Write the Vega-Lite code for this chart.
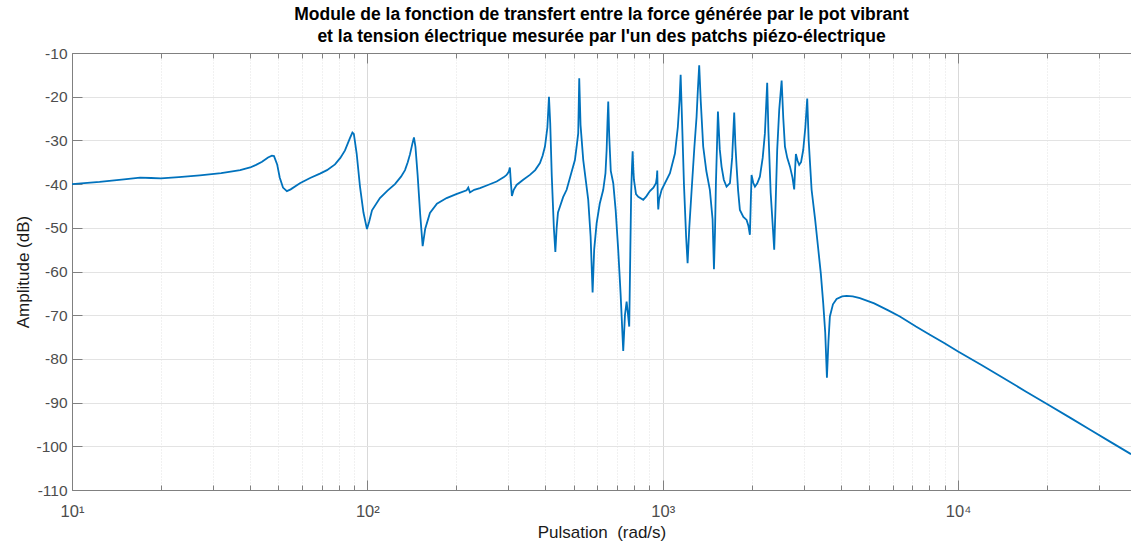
{
 "$schema": "https://vega.github.io/schema/vega-lite/v6.json",
 "width": 1059,
 "height": 437,
 "autosize": {"type": "none"},
 "padding": {"left": 72, "top": 53, "right": 0, "bottom": 55},
 "background": "white",
 "title": {
  "text": ["Module de la fonction de transfert entre la force générée par le pot vibrant", "et la tension électrique mesurée par l'un des patchs piézo-électrique"],
  "font": "Liberation Sans", "fontSize": 17.5, "fontWeight": "bold", "color": "#000000",
  "anchor": "middle", "offset": 1, "lineHeight": 22
 },
 "config": {
  "view": {"stroke": "#808080", "strokeWidth": 1},
  "axis": {"labelFont": "Liberation Sans", "titleFont": "Liberation Sans", "domainColor": "#808080", "tickColor": "#808080", "labelColor": "#4d4d4d", "titleColor": "#1a1a1a", "titleFontWeight": "normal"}
 },
 "data": {"values": [
  {"w":10,"db":-40.0},{"w":12.4,"db":-39.5},{"w":15,"db":-38.9},{"w":17,"db":-38.5},{"w":18.5,"db":-38.6},{"w":20,"db":-38.7},{"w":23,"db":-38.4},{"w":27.1,"db":-38.0},{"w":32,"db":-37.5},{"w":37.1,"db":-36.8},{"w":40.1,"db":-36.2},{"w":42,"db":-35.6},{"w":44,"db":-34.9},{"w":46.1,"db":-33.9},{"w":47.5,"db":-33.5},{"w":48.3,"db":-33.6},{"w":49.5,"db":-35.5},{"w":50.5,"db":-38.5},{"w":51.8,"db":-40.8},{"w":53.4,"db":-41.6},{"w":55,"db":-41.2},{"w":59.1,"db":-39.8},{"w":64,"db":-38.6},{"w":69.1,"db":-37.6},{"w":73,"db":-36.8},{"w":77.7,"db":-35.5},{"w":81,"db":-34.0},{"w":84,"db":-32.3},{"w":87.3,"db":-29.5},{"w":89,"db":-28.2},{"w":90,"db":-28.5},{"w":92,"db":-33},{"w":94.4,"db":-40.5},{"w":97,"db":-46.5},{"w":99.7,"db":-50.3},{"w":101.5,"db":-48.5},{"w":103.7,"db":-46},{"w":110.3,"db":-43.2},{"w":117,"db":-41.5},{"w":124,"db":-40.0},{"w":130,"db":-38.3},{"w":134.1,"db":-36.8},{"w":137,"db":-35},{"w":139.4,"db":-33.2},{"w":142,"db":-30.8},{"w":143.8,"db":-29.3},{"w":145.5,"db":-31.5},{"w":148,"db":-38},{"w":151,"db":-47},{"w":153.9,"db":-54.2},{"w":157,"db":-50.2},{"w":162.9,"db":-46.6},{"w":172,"db":-44.5},{"w":185.5,"db":-43.2},{"w":200,"db":-42.3},{"w":216.8,"db":-41.4},{"w":219.6,"db":-40.8},{"w":222.5,"db":-41.9},{"w":230,"db":-41.3},{"w":240.6,"db":-40.9},{"w":256,"db":-40.2},{"w":274,"db":-39.4},{"w":290,"db":-38.4},{"w":296.1,"db":-37.9},{"w":301,"db":-37.2},{"w":303.8,"db":-36.2},{"w":306,"db":-39.5},{"w":308.6,"db":-42.7},{"w":313,"db":-41.3},{"w":320.1,"db":-40.2},{"w":337,"db":-39},{"w":355.1,"db":-37.9},{"w":370,"db":-36.8},{"w":384,"db":-35.2},{"w":392,"db":-33.5},{"w":399.3,"db":-31.4},{"w":407,"db":-27},{"w":412,"db":-20.0},{"w":416,"db":-26},{"w":421,"db":-38},{"w":428,"db":-50},{"w":433,"db":-55.5},{"w":437.4,"db":-50},{"w":442,"db":-46.5},{"w":448.7,"db":-45.2},{"w":460,"db":-43},{"w":472.8,"db":-41.3},{"w":490,"db":-37.5},{"w":504.3,"db":-34.5},{"w":512,"db":-31},{"w":517.5,"db":-28.4},{"w":521.6,"db":-15.8},{"w":527,"db":-26.5},{"w":538.2,"db":-34.5},{"w":559.5,"db":-43.6},{"w":570,"db":-52},{"w":578.9,"db":-64.8},{"w":586,"db":-55},{"w":597.3,"db":-49},{"w":612,"db":-44.5},{"w":628.9,"db":-41.3},{"w":640,"db":-37.5},{"w":645.8,"db":-32.2},{"w":650,"db":-26},{"w":654,"db":-21.1},{"w":659,"db":-29},{"w":667,"db":-37},{"w":680,"db":-39.8},{"w":693,"db":-46},{"w":706.9,"db":-55.1},{"w":720,"db":-65},{"w":735,"db":-78.2},{"w":745,"db":-70},{"w":754.7,"db":-66.9},{"w":762,"db":-69.5},{"w":770.2,"db":-72.6},{"w":775,"db":-60},{"w":782,"db":-42},{"w":787,"db":-36},{"w":791,"db":-32.5},{"w":795,"db":-36.5},{"w":799,"db":-39},{"w":812,"db":-42.3},{"w":826.4,"db":-42.9},{"w":859.1,"db":-43.6},{"w":880,"db":-42.8},{"w":904.9,"db":-41.6},{"w":930,"db":-40.8},{"w":948.6,"db":-39.8},{"w":955,"db":-38.5},{"w":958.3,"db":-36.9},{"w":960.5,"db":-40},{"w":963,"db":-44},{"w":965.9,"db":-45.8},{"w":972,"db":-43.5},{"w":991.5,"db":-41.3},{"w":1058,"db":-37.5},{"w":1100,"db":-33},{"w":1125,"db":-27},{"w":1140,"db":-21},{"w":1150,"db":-15.0},{"w":1162,"db":-25},{"w":1180,"db":-40},{"w":1200,"db":-52},{"w":1214,"db":-58.1},{"w":1230,"db":-50},{"w":1253,"db":-41.3},{"w":1280,"db":-31.5},{"w":1302,"db":-24.6},{"w":1315,"db":-18.5},{"w":1329,"db":-12.8},{"w":1345,"db":-21},{"w":1371,"db":-31.4},{"w":1405,"db":-37},{"w":1444,"db":-41.3},{"w":1475,"db":-48},{"w":1491,"db":-59.5},{"w":1503,"db":-51},{"w":1514,"db":-39.8},{"w":1527,"db":-31},{"w":1538,"db":-23.4},{"w":1560,"db":-32},{"w":1582,"db":-36},{"w":1610,"db":-39},{"w":1645,"db":-40.6},{"w":1689,"db":-39.8},{"w":1718,"db":-34},{"w":1746,"db":-23.6},{"w":1762,"db":-31},{"w":1779,"db":-36},{"w":1800,"db":-41.5},{"w":1825,"db":-45.9},{"w":1875,"db":-47.5},{"w":1923,"db":-48.2},{"w":1950,"db":-49.5},{"w":1973,"db":-51.6},{"w":1987,"db":-44},{"w":1999,"db":-37.9},{"w":2025,"db":-39.7},{"w":2052,"db":-40.6},{"w":2090,"db":-39.8},{"w":2133,"db":-38.3},{"w":2180,"db":-34},{"w":2218,"db":-28.4},{"w":2240,"db":-22},{"w":2258,"db":-16.8},{"w":2280,"db":-28},{"w":2320,"db":-42},{"w":2360,"db":-50},{"w":2385,"db":-55},{"w":2410,"db":-45},{"w":2441,"db":-32.2},{"w":2480,"db":-23},{"w":2527,"db":-16.3},{"w":2560,"db":-25},{"w":2593,"db":-31.4},{"w":2640,"db":-34},{"w":2697,"db":-36},{"w":2750,"db":-38.5},{"w":2787,"db":-41.2},{"w":2805,"db":-37},{"w":2824,"db":-33.1},{"w":2860,"db":-34.6},{"w":2898,"db":-35.6},{"w":2940,"db":-35},{"w":2990,"db":-32.2},{"w":3040,"db":-27},{"w":3085,"db":-20.4},{"w":3120,"db":-30},{"w":3192,"db":-41.3},{"w":3280,"db":-48},{"w":3361,"db":-54.8},{"w":3430,"db":-60.5},{"w":3495,"db":-67.3},{"w":3550,"db":-74},{"w":3597,"db":-84.3},{"w":3640,"db":-76},{"w":3681,"db":-70.3},{"w":3770,"db":-67.5},{"w":3879,"db":-66.3},{"w":4050,"db":-65.7},{"w":4194,"db":-65.6},{"w":4400,"db":-65.7},{"w":4651,"db":-66.1},{"w":5200,"db":-67.3},{"w":5800,"db":-68.9},{"w":6353,"db":-70.3},{"w":7200,"db":-72.6},{"w":8000,"db":-74.4},{"w":9000,"db":-76.4},{"w":10000,"db":-78.3},{"w":12000,"db":-81.4},{"w":14000,"db":-84.1},{"w":17000,"db":-87.5},{"w":20000,"db":-90.3},{"w":24000,"db":-93.5},{"w":28000,"db":-96.2},{"w":33000,"db":-99.1},{"w":38500,"db":-101.8}
 ]},
 "layer": [
  {
   "mark": {"type": "line", "color": "#0072BD", "strokeWidth": 1.8, "clip": true},
   "encoding": {
    "x": {"field": "w", "type": "quantitative",
     "scale": {"type": "log", "domain": [10, 38500], "nice": false},
     "axis": {
      "orient": "bottom",
      "values": [10,20,30,40,50,60,70,80,90,100,200,300,400,500,600,700,800,900,1000,2000,3000,4000,5000,6000,7000,8000,9000,10000,20000,30000],
      "labelExpr": "datum.value == 10 ? '10¹' : datum.value == 100 ? '10²' : datum.value == 1000 ? '10³' : datum.value == 10000 ? '10⁴' : ''",
      "labelOverlap": false, "labelFlush": false, "labelBound": false,
      "labelFontSize": 16.5, "labelPadding": 23,
      "grid": true,
      "gridColor": {"condition": {"test": "indexof([10,100,1000,10000], datum.value) >= 0", "value": "#d9d9d9"}, "value": "#e3e3e3"},
      "gridDash": {"condition": {"test": "indexof([10,100,1000,10000], datum.value) >= 0", "value": []}, "value": [1, 2]},
      "tickSize": {"condition": {"test": "indexof([10,100,1000,10000], datum.value) >= 0", "value": -10}, "value": -5},
      "title": "Pulsation \u00a0(rad/s)", "titleFontSize": 17, "titlePadding": 0
     }
    },
    "y": {"field": "db", "type": "quantitative",
     "scale": {"domain": [-110, -10], "nice": false},
     "axis": {
      "orient": "left",
      "values": [-110,-100,-90,-80,-70,-60,-50,-40,-30,-20,-10],
      "labelExpr": "'' + datum.value",
      "labelFontSize": 15.5, "labelPadding": 15, "tickSize": -10,
      "grid": true, "gridColor": "#e3e3e3",
      "title": "Amplitude (dB)", "titleFontSize": 17, "titlePadding": 3
     }
    }
   }
  },
  {
   "mark": {"type": "line", "opacity": 0},
   "encoding": {
    "x": {"field": "w", "type": "quantitative",
     "scale": {"type": "log", "domain": [10, 38500], "nice": false},
     "axis": {
      "orient": "top",
      "values": [10,20,30,40,50,60,70,80,90,100,200,300,400,500,600,700,800,900,1000,2000,3000,4000,5000,6000,7000,8000,9000,10000,20000,30000],
      "labels": false, "grid": false, "title": null,
      "tickSize": {"condition": {"test": "indexof([10,100,1000,10000], datum.value) >= 0", "value": -10}, "value": -5}
     }
    },
    "y": {"field": "db", "type": "quantitative",
     "scale": {"domain": [-110, -10], "nice": false},
     "axis": {"orient": "right", "labels": false, "ticks": false, "domain": false, "grid": false, "title": null}
    }
   }
  }
 ],
 "resolve": {"axis": {"x": "independent", "y": "independent"}}
}
